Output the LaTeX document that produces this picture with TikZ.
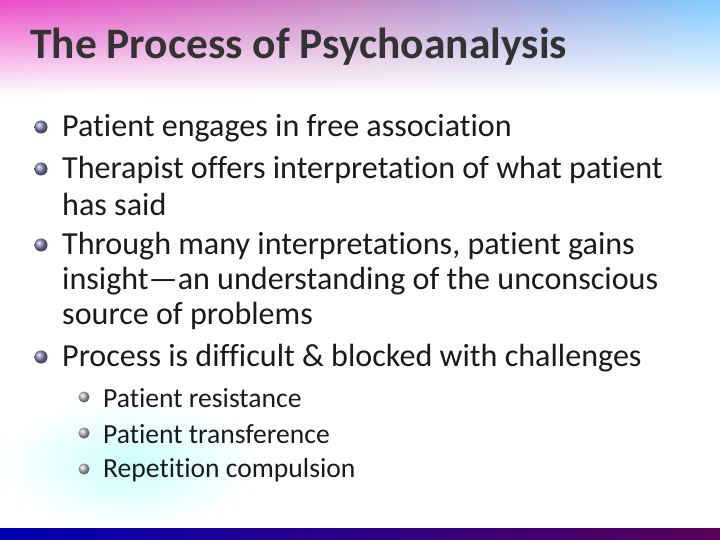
\documentclass[tikz,border=0pt]{standalone}
\usepackage{fontspec}
\setmainfont{Carlito}[Ligatures=NoCommon]
\usetikzlibrary{shadings,fadings}
\definecolor{txt}{HTML}{1A1A1A}
\tikzset{
  bl/.style={anchor=west,font=\fontsize{32.1}{32.1}\selectfont,text=txt,inner sep=0},
  sbl/.style={anchor=west,font=\fontsize{27.6}{27.6}\selectfont,text=txt,inner sep=0},
  ball/.style={circle,inner sep=0,minimum size=#1,ball color=blue!30!gray!70}
}
\begin{document}
\begin{tikzpicture}[x=1pt,y=-1pt]
\useasboundingbox (0,0) rectangle (720,540);
\fill[white] (0,0) rectangle (720,540);
% top band
\shade[left color=magenta!60!purple!70, right color=blue!40!cyan!50, middle color=violet!45, path fading=south] (0,0) rectangle (720,95);
% bottom glow
\shade[inner color=cyan!20, outer color=white] (0,400) rectangle (260,528);
\shade[left color=blue!70!black, right color=violet!70!black] (0,528) rectangle (720,540);
% title
\node (title) [anchor=west,inner sep=0,font=\bfseries\fontsize{43.5}{43.5}\selectfont,text=black!80] at (30,47) {The Process of Psychoanalysis};
% bullets
\foreach \y/\n in {128/b1,170/b2,246/b3,358/b4}
  \node (\n) [ball=13pt] at (41,\y-1) {};
\node (t1) [bl] at (62,128) {Patient engages in free association};
\node (t2) [bl] at (62,170) {Therapist offers interpretation of what patient};
\node (t2b) [bl] at (62,204) {has said};
\node (t3) [bl] at (62,246) {Through many interpretations, patient gains};
\node (t3b) [bl] at (62,281) {insight—an understanding of the unconscious};
\node (t3c) [bl] at (62,316) {source of problems};
\node (t4) [bl] at (62,358) {Process is difficult \& blocked with challenges};
\foreach \y/\n in {398/s1,434/s2,470/s3}
  \node (\n) [ball=11pt,ball color=gray!50] at (84,\y-1) {};
\node (u1) [sbl] at (103,398) {Patient resistance};
\node (u2) [sbl] at (103,434) {Patient transference};
\node (u3) [sbl] at (103,470) {Repetition compulsion};
\end{tikzpicture}
\end{document}
